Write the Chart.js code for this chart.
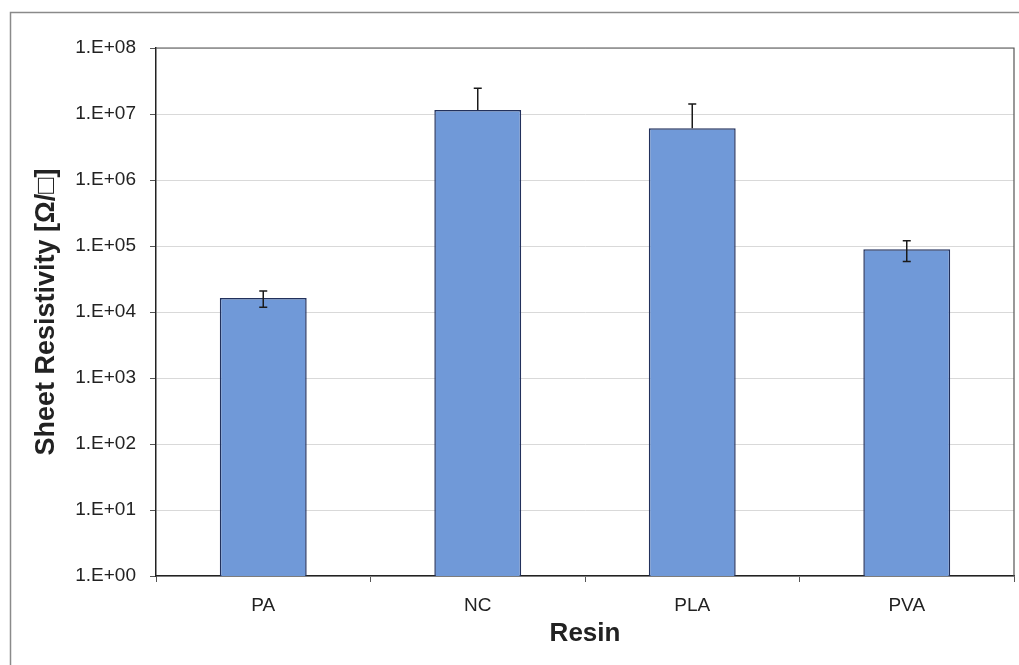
<!DOCTYPE html>
<html>
<head>
<meta charset="utf-8">
<script src="https://cdn.jsdelivr.net/npm/chart.js@4"></script>
<style>
  html, body { margin: 0; padding: 0; background: #fff; }
  #wrap { width: 1019px; height: 665px; position: relative; }
</style>
</head>
<body>
<div id="wrap"><canvas id="chart"></canvas></div>
<script>
// Données
const resins      = ['PA', 'NC', 'PLA', 'PVA'];
const resistivity = [1.63e4, 1.15e7, 6.1e6, 8.9e4];
const errors      = [4.5e3, 1.3e7, 8.1e6, 3.1e4];
const tickExps    = [0, 1, 2, 3, 4, 5, 6, 7, 8];

const tickLabel = v => {
  const e = Math.round(Math.log10(v));
  return '1.E+' + String(e).padStart(2, '0');
};

// Barres d'erreur (style Excel, partie négative masquée si <= 0)
const errorBars = {
  id: 'errorBars',
  afterDatasetsDraw(chart) {
    const { ctx, scales: { y } } = chart;
    const meta = chart.getDatasetMeta(0);
    ctx.save();
    ctx.strokeStyle = '#1a1a1a';
    ctx.lineWidth = 1.5;
    meta.data.forEach((bar, i) => {
      const v = resistivity[i], e = errors[i];
      const cx = bar.x;
      const yTop = y.getPixelForValue(v + e);
      const lo = v - e;
      const yBot = lo > 0 ? y.getPixelForValue(lo) : y.getPixelForValue(v);
      ctx.beginPath();
      ctx.moveTo(cx, yTop); ctx.lineTo(cx, yBot);
      ctx.moveTo(cx - 4, yTop); ctx.lineTo(cx + 4, yTop);
      if (lo > 0) { ctx.moveTo(cx - 4, yBot); ctx.lineTo(cx + 4, yBot); }
      ctx.stroke();
    });
    ctx.restore();
  }
};

// Cadre extérieur + bordure de la zone de tracé
const frame = {
  id: 'frame',
  afterDraw(chart) {
    const { ctx, chartArea: a } = chart;
    ctx.save();
    ctx.strokeStyle = '#8a8a8a';
    ctx.lineWidth = 1.5;
    ctx.strokeRect(10.5, 12.5, 1100, 800);
    ctx.strokeStyle = '#555';
    ctx.lineWidth = 1.2;
    ctx.beginPath();
    ctx.moveTo(a.left, a.top); ctx.lineTo(a.right, a.top); ctx.lineTo(a.right, a.bottom);
    ctx.stroke();
    ctx.restore();
  }
};

new Chart(document.getElementById('chart'), {
  type: 'bar',
  data: {
    labels: resins,
    datasets: [{
      data: resistivity,
      backgroundColor: '#7099d8',
      borderColor: '#22315c',
      borderWidth: 1.5,
      barPercentage: 0.405,
      categoryPercentage: 1
    }]
  },
  options: {
    responsive: true,
    maintainAspectRatio: false,
    animation: false,
    layout: { padding: { left: 0, right: 5, top: 48, bottom: 0 } },
    plugins: { legend: { display: false }, tooltip: { enabled: false } },
    scales: {
      x: {
        afterFit: s => { s.height = 89; },
        grid: { offset: true, drawOnChartArea: false, drawTicks: true, tickLength: 6, tickColor: '#555' },
        border: { color: '#222', width: 1.5 },
        ticks: { color: '#222', padding: 12, font: { family: 'Liberation Sans', size: 19 } },
        title: {
          display: true, text: 'Resin', color: '#222',
          font: { family: 'Liberation Sans', size: 26, weight: 'bold' },
          padding: { bottom: 16 }
        }
      },
      y: {
        type: 'logarithmic',
        min: 1, max: 1e8,
        afterFit: s => { s.width = 156; },
        afterBuildTicks: s => { s.ticks = tickExps.map(e => ({ value: Math.pow(10, e) })); },
        grid: { color: '#d9d9d9', lineWidth: 1, drawTicks: true, tickLength: 6, tickColor: '#555' },
        border: { color: '#222', width: 1.5 },
        ticks: { color: '#222', padding: 14, callback: v => tickLabel(v), font: { family: 'Liberation Sans', size: 19 } },
        title: {
          display: true, text: 'Sheet Resistivity [Ω/□]', color: '#222',
          font: { family: 'Liberation Sans', size: 27, weight: 'bold' },
          padding: { top: 30 }
        }
      }
    }
  },
  plugins: [errorBars, frame]
});
</script>
</body>
</html>
